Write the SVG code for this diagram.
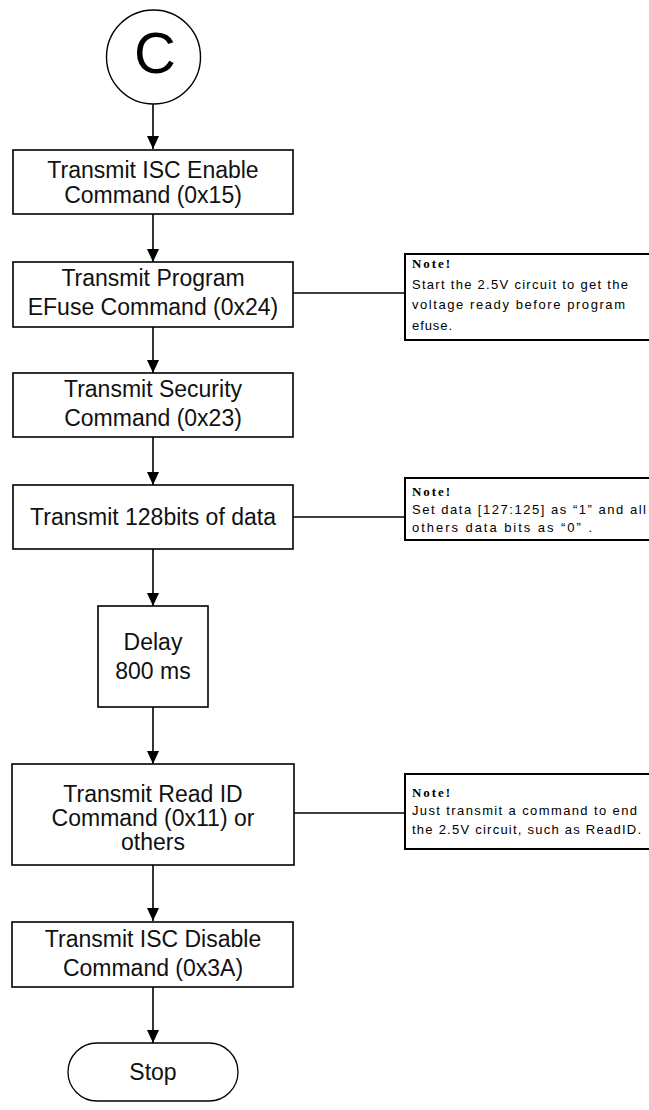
<svg xmlns="http://www.w3.org/2000/svg" width="649" height="1110" viewBox="0 0 649 1110">
<defs>
<marker id="arr" viewBox="0 0 13 12" refX="13" refY="6" markerWidth="13" markerHeight="12" markerUnits="userSpaceOnUse" orient="auto">
<path d="M0,0 L13,6 L0,12 z" fill="#000"/>
</marker>
<style>
.box{fill:#fff;stroke:#000;stroke-width:1.6}
.note{fill:#fff;stroke:#000;stroke-width:2}
.t{font-family:"Liberation Sans",Arial,sans-serif;font-size:23px;fill:#111;text-anchor:middle}
.nh{font-family:"Liberation Serif","Times New Roman",serif;font-weight:bold;font-size:13px;fill:#000}
.nt{font-family:"Liberation Sans",Arial,sans-serif;font-size:13px;fill:#000}
.c{stroke:#000;stroke-width:1.6;fill:none}
</style>
</defs>
<rect width="649" height="1110" fill="#fff"/>
<g id="connectors">
<line class="c" x1="153" y1="104" x2="153" y2="149" marker-end="url(#arr)"/>
<line class="c" x1="153" y1="214" x2="153" y2="262" marker-end="url(#arr)"/>
<line class="c" x1="153" y1="327" x2="153" y2="373" marker-end="url(#arr)"/>
<line class="c" x1="153" y1="437" x2="153" y2="485" marker-end="url(#arr)"/>
<line class="c" x1="153" y1="549" x2="153" y2="606" marker-end="url(#arr)"/>
<line class="c" x1="153" y1="707" x2="153" y2="764" marker-end="url(#arr)"/>
<line class="c" x1="153" y1="865" x2="153" y2="921" marker-end="url(#arr)"/>
<line class="c" x1="153" y1="987" x2="153" y2="1043" marker-end="url(#arr)"/>
<line class="c" x1="293" y1="293" x2="405" y2="293"/>
<line class="c" x1="293" y1="517" x2="405" y2="517"/>
<line class="c" x1="294" y1="813" x2="405" y2="813"/>
</g>
<g id="start">
<circle cx="153.5" cy="57" r="47" fill="#fff" stroke="#000" stroke-width="1.4"/>
<text x="155" y="73" font-family="Liberation Sans,Arial,sans-serif" font-size="58" text-anchor="middle" fill="#000">C</text>
</g>
<g id="n1">
<rect class="box" x="13" y="150" width="280" height="64"/>
<text class="t" x="153" y="178">Transmit ISC Enable</text>
<text class="t" x="153" y="203">Command (0x15)</text>
</g>
<g id="n2">
<rect class="box" x="13" y="262" width="280" height="65"/>
<text class="t" x="153" y="286">Transmit Program</text>
<text class="t" x="153" y="315">EFuse Command (0x24)</text>
</g>
<g id="note1">
<rect class="note" x="405" y="254" width="250" height="86"/>
<text class="nh" x="412" y="268" textLength="38">Note!</text>
<text class="nt" x="412" y="289" textLength="216">Start the 2.5V circuit to get the</text>
<text class="nt" x="412" y="309" textLength="213">voltage ready before program</text>
<text class="nt" x="412" y="330" textLength="40">efuse.</text>
</g>
<g id="n3">
<rect class="box" x="13" y="373" width="280" height="64"/>
<text class="t" x="153" y="397">Transmit Security</text>
<text class="t" x="153" y="426">Command (0x23)</text>
</g>
<g id="n4">
<rect class="box" x="13" y="485" width="280" height="64"/>
<text class="t" x="153" y="525">Transmit 128bits of data</text>
</g>
<g id="note2">
<rect class="note" x="405" y="478" width="250" height="62"/>
<text class="nh" x="412" y="496" textLength="38">Note!</text>
<text class="nt" x="412" y="514" textLength="234">Set data [127:125] as “1” and all</text>
<text class="nt" x="412" y="532" textLength="180">others data bits as “0” .</text>
</g>
<g id="n5">
<rect class="box" x="98" y="606" width="110" height="101"/>
<text class="t" x="153" y="650">Delay</text>
<text class="t" x="153" y="679">800 ms</text>
</g>
<g id="n6">
<rect class="box" x="12" y="764" width="282" height="101"/>
<text class="t" x="153" y="802">Transmit Read ID</text>
<text class="t" x="153" y="826">Command (0x11) or</text>
<text class="t" x="153" y="850">others</text>
</g>
<g id="note3">
<rect class="note" x="405" y="774" width="250" height="75"/>
<text class="nh" x="412" y="797" textLength="38">Note!</text>
<text class="nt" x="412" y="815" textLength="225">Just transmit a command to end</text>
<text class="nt" x="412" y="834" textLength="229">the 2.5V circuit, such as ReadID.</text>
</g>
<g id="n7">
<rect class="box" x="12" y="922" width="281" height="65"/>
<text class="t" x="153" y="947">Transmit ISC Disable</text>
<text class="t" x="153" y="976">Command (0x3A)</text>
</g>
<g id="stop">
<rect x="68" y="1043" width="170" height="58" rx="29" ry="29" fill="#fff" stroke="#000" stroke-width="1.3"/>
<text class="t" x="153" y="1080">Stop</text>
</g>
</svg>
